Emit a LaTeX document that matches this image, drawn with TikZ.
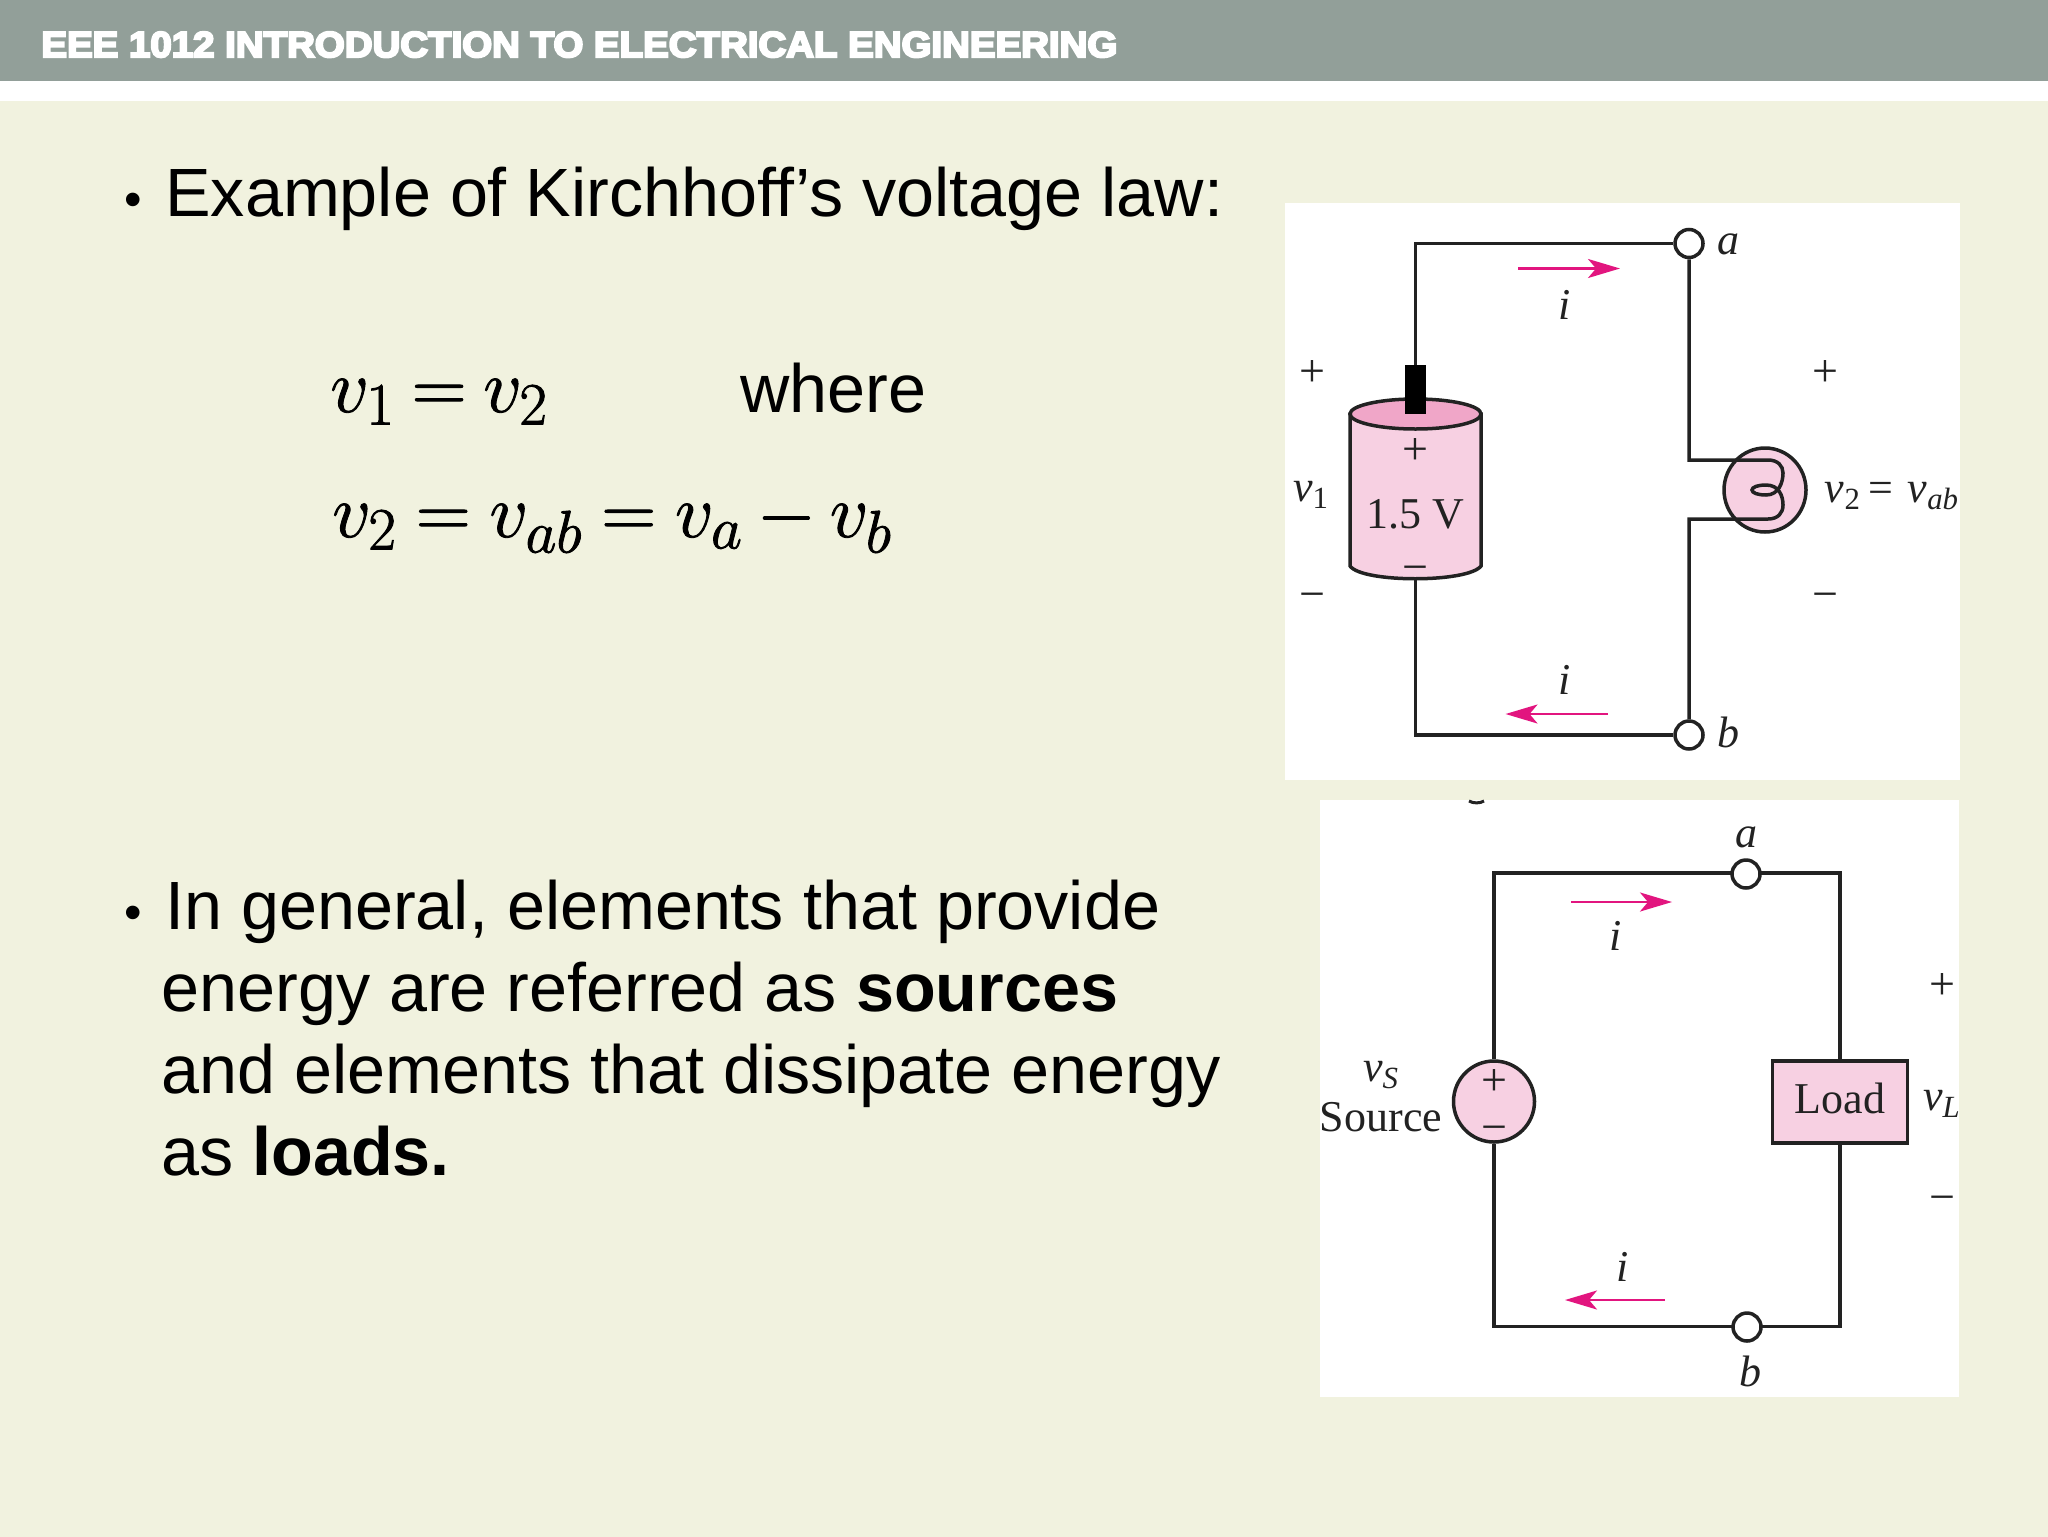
\RequirePackage{fix-cm}
\documentclass[tikz,border=0pt]{standalone}
\usepackage[no-math]{fontspec}
\usetikzlibrary{arrows.meta,shapes.geometric}
\setmainfont{Liberation Sans}
\newfontfamily\serifcirc{Liberation Serif}
\newfontfamily\hdrfont[FakeBold=6,FakeStretch=1.068]{Liberation Sans Bold}
\newcommand{\heavyon}{\special{pdf:code 2 Tr 0.45 w}}
\newcommand{\heavyoff}{\special{pdf:code 0 Tr}}
\DeclareMathSizes{38}{38}{30}{24}
\definecolor{bandc}{HTML}{929F99}
\definecolor{bgc}{HTML}{F1F2DF}
\definecolor{pinkc}{HTML}{F7D0E2}
\definecolor{pinkd}{HTML}{F0A6C8}
\definecolor{arrc}{HTML}{E2157F}
\definecolor{wirec}{HTML}{222222}
\tikzset{
 x=0.5pt,y=-0.5pt,
 wire/.style={draw=wirec,line width=1.75pt,line join=miter},
 term/.style={circle,draw=wirec,line width=1.75pt,fill=white,minimum size=14pt,inner sep=0pt},
 curarrow/.style={draw=arrc,line width=1.2pt,-{Stealth[length=16pt,width=9.5pt,inset=4pt,color=arrc]}},
 bodytext/.style={anchor=base west,inner sep=0pt,font=\fontsize{34.15}{40}\selectfont,text=black},
 eqn/.style={anchor=base west,inner sep=0pt,font=\fontsize{38}{44}\selectfont,text=black},
 ctext/.style={inner sep=0pt,font=\fontsize{22}{26}\serifcirc,text=wirec},
 cmath/.style={inner sep=0pt,font=\fontsize{22}{26}\serifcirc\itshape,text=wirec},
 sign/.style={inner sep=0pt,font=\fontsize{23}{26}\serifcirc,text=wirec},
}
\begin{document}
\begin{tikzpicture}
\useasboundingbox (0,0) rectangle (2048,1536);
\fill[white] (-10,-10) rectangle (2060,1550);
\fill[bandc] (-10,-10) rectangle (2060,81);
\fill[bgc] (-10,101) rectangle (2060,1550);
\node[anchor=base west,inner sep=0pt,text=white,font=\fontsize{18}{20}\hdrfont] (hdr) at (41,57) {EEE 1012 INTRODUCTION TO ELECTRICAL ENGINEERING};
% body text
\node[anchor=base west,inner sep=0pt,font=\fontsize{25}{30}\selectfont] (b1) at (124,216) {•};
\node[bodytext] (l0) at (165,216) {Example of Kirchhoff’s voltage law:};
\node[eqn] (eq1) at (330,412) {\heavyon$\thickmuskip=4mu v_1=v_2$\heavyoff};
\node[bodytext] (wh) at (740,412) {where};
\node[eqn] (eq2) at (332,537) {\heavyon$\thickmuskip=4.5mu\medmuskip=3.3mu v_2=v_{ab}=v_a-v_b$\heavyoff};
\node[anchor=base west,inner sep=0pt,font=\fontsize{25}{30}\selectfont] (b2) at (124,929) {•};
\node[bodytext] (l1) at (165,929) {In general, elements that provide};
\node[bodytext] (l2) at (161,1011) {energy are referred as \textbf{sources}};
\node[bodytext] (l3) at (161,1093) {and elements that dissipate energy};
\node[bodytext] (l4) at (161,1175) {as \textbf{loads.}};
% panels
\fill[white] (1285,203) rectangle (1960,780);
\fill[white] (1320,800) rectangle (1959,1397);
% ---- circuit 1
\node[term] (a1) at (1689,243.5) {};
\node[term] (b1t) at (1689,735) {};
\coordinate (j1) at (1689,460);
\coordinate (j2) at (1689,519);
% lamp
\node[ellipse,draw=wirec,line width=1.75pt,fill=pinkc,minimum width=41pt,minimum height=42pt,inner sep=0pt] (lamp) at (1765,490) {};
\draw[wire] (a1.south) -- (j1) -- (1768,460) .. controls (1778,460) and (1783,466) .. (1783,473)
 .. controls (1783,482) and (1779,495) .. (1766,495) .. controls (1758,495) and (1752,493) .. (1752,490)
 .. controls (1752,487) and (1758,485) .. (1766,485) .. controls (1779,485) and (1783,496) .. (1783,505)
 .. controls (1783,513) and (1778,519) .. (1768,519) -- (j2) -- (b1t.north);
% battery
\draw[wire,fill=pinkc] (1350,414) -- (1350,566) .. controls (1362,583) and (1468,583) .. (1481,566) -- (1481,414) -- cycle;
\node[ellipse,draw=wirec,line width=1.75pt,fill=pinkd,minimum width=65.5pt,minimum height=15pt,inner sep=0pt] (battop) at (1415.5,414) {};
\node[rectangle,fill=black,minimum width=10.5pt,minimum height=24.5pt,inner sep=0pt] (batterm) at (1415.5,389.5) {};
\coordinate (batbot) at (1415.5,579);
\draw[wire] (batterm.north) |- (a1.west);
\draw[wire] (batbot) |- (b1t.west);
\node[sign] (bp) at (1415.5,452) {+};
\node[sign] (bm) at (1415.5,574) {−};
\node[ctext] (bv) at (1415.5,514.5) {1.5 V};
\node[sign] (p1) at (1312,374) {+};
\node[sign] (m1) at (1312,601) {−};
\node[cmath] (v1) at (1311,495) {v\textsubscript{\upshape 1}};
\node[sign] (p2) at (1825.5,374) {+};
\node[sign] (m2) at (1825.5,601) {−};
\node[cmath] (v2) at (1892,496) {v\textsubscript{\upshape 2}\,{\upshape =}\,\,v\textsubscript{ab}};
\node[cmath] (la1) at (1728,244) {a};
\node[cmath] (lb1) at (1728,732) {b};
\coordinate (ar1s) at (1518,268.5); \coordinate (ar1e) at (1620,268.5);
\coordinate (ar2s) at (1608,714); \coordinate (ar2e) at (1505.5,714);
\draw[curarrow] (ar1s) -- (ar1e);
\draw[curarrow] (ar2s) -- (ar2e);
\node[cmath] (i1) at (1565,305) {i};
\node[cmath] (i2) at (1565,680) {i};
% ---- circuit 2
\coordinate (tl) at (1494,873);
\coordinate (tr) at (1840,873);
\coordinate (bl) at (1494,1326.5);
\coordinate (br) at (1840,1326.5);
\node[circle,draw=wirec,line width=1.75pt,fill=pinkc,minimum size=40.5pt,inner sep=0pt] (src) at (1494,1101.5) {};
\node[rectangle,draw=wirec,line width=1.75pt,fill=pinkc,minimum width=67.5pt,minimum height=41pt,inner sep=0pt] (load) at (1840,1102) {};
\draw[wire] (src.north) -- (tl) -- (tr) -- (load.north);
\draw[wire] (src.south) -- (bl) -- (br) -- (load.south);
\node[term] (a2) at (1746,874) {};
\node[term] (b2t) at (1747,1327) {};
\node[cmath] (la2) at (1746,837) {a};
\node[cmath] (lb2) at (1750,1371) {b};
\node[sign] (sp) at (1494,1082) {+};
\node[sign] (sm) at (1494,1134) {−};
\node[cmath] (vs) at (1381,1075) {v\textsubscript{S}};
\node[ctext] (st) at (1381,1117) {Source};
\node[ctext] (lt) at (1840,1098) {Load};
\node[cmath] (vl) at (1942,1104) {v\textsubscript{L}};
\node[sign] (p3) at (1942,986) {+};
\node[sign] (m3) at (1942,1204) {−};
\coordinate (ar3s) at (1571,902); \coordinate (ar3e) at (1672,902);
\coordinate (ar4s) at (1665,1300); \coordinate (ar4e) at (1565,1300);
\draw[curarrow] (ar3s) -- (ar3e);
\draw[curarrow] (ar4s) -- (ar4e);
\node[cmath] (i3) at (1616,936) {i};
\node[cmath] (i4) at (1622.5,1266.5) {i};
% remnant at panel top
\draw[draw=wirec,line width=1.5pt] (1469,801) .. controls (1473,803.5) and (1480,803.5) .. (1484,801);
\end{tikzpicture}
\end{document}
